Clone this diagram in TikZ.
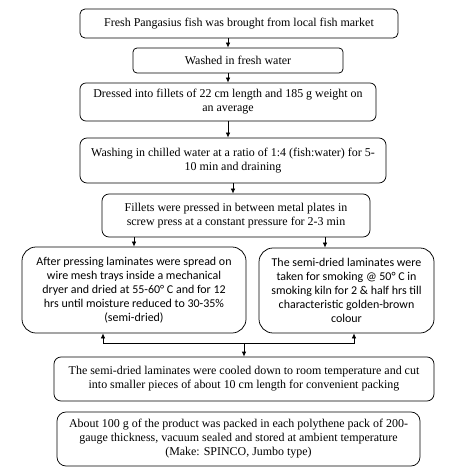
\documentclass[tikz,border=0pt]{standalone}
\usepackage{fontspec}
\setmainfont{Liberation Serif}
\newfontfamily\calibri{Carlito}
\usetikzlibrary{arrows.meta}
\usetikzlibrary{positioning}

\begin{document}
\begin{tikzpicture}[x=1bp, y=-1bp, line width=0.75bp,
  procbox/.style={draw, align=center, inner sep=2bp, font=\fontsize{12}{14}\selectfont},
  sidebox/.style={procbox, rounded corners=14bp, font=\calibri\fontsize{12}{14.2}\selectfont},
  >={Latex[length=5bp,width=4.5bp]}]
  \useasboundingbox (0,0) rectangle (465,471);

  \node[procbox, rounded corners=5bp, minimum width=318bp, minimum height=29bp] (fresh) at (239,23.5)
    {Fresh Pangasius fish was brought from local fish market};
  \node[procbox, rounded corners=4bp, minimum width=210bp, minimum height=25bp] (wash) at (238,60.5)
    {Washed in fresh water};
  \node[procbox, rounded corners=6bp, minimum width=296bp, minimum height=38bp] (dress) at (228,102)
    {Dressed into fillets of 22 cm length and 185 g weight on\\an average};
  \node[procbox, rounded corners=7bp, minimum width=306bp, minimum height=45bp] (chill) at (233,160.5)
    {Washing in chilled water at a ratio of 1:4 (fish:water) for 5-\\10 min and draining};
  \node[procbox, rounded corners=7bp, minimum width=268bp, minimum height=43bp] (press) at (236,215.5)
    {Fillets were pressed in between metal plates in\\screw press at a constant pressure for 2-3 min};

  \node[sidebox, minimum width=224bp, minimum height=86bp] (dry) at (134,290)
    {After pressing laminates were spread on\\wire mesh trays inside a mechanical\\dryer and dried at 55-60° C and for 12\\hrs until moisture reduced to 30-35\%\\(semi-dried)};
  \node[sidebox, minimum width=175bp, minimum height=85bp] (smoke) at (346.5,290.5)
    {The semi-dried laminates were\\taken for smoking @ 50° C in\\smoking kiln for 2 \& half hrs till\\characteristic golden-brown\\colour};

  \node[procbox, rounded corners=7bp, minimum width=380bp, minimum height=44bp] (cool) at (244,379)
    {The semi-dried laminates were cooled down to room temperature and cut\\into smaller pieces of about 10 cm length for convenient packing};
  \node[procbox, rounded corners=9bp, minimum width=363bp, minimum height=54bp] (pack) at (238.5,439)
    {About 100 g of the product was packed in each polythene pack of 200-\\gauge thickness, vacuum sealed and stored at ambient temperature\\(Make: SPINCO, Jumbo type)};

  \draw[->] (fresh.south -| dress.north) -- (wash.north -| dress.north);
  \draw[->] (wash.south -| dress.north) -- (dress.north);
  \draw[->] (dress.south) -- (dress.south |- chill.north);
  \draw[->] (chill.south) -- (chill.south |- press.north);
  \draw[->] (press.south -| dry.north) -- (dry.north);
  \draw[->] ([xshift=-21.5bp]smoke.north |- press.south) -- ([xshift=-21.5bp]smoke.north);

  \coordinate (join) at ([yshift=13bp]cool.north);
  \draw[<->] ([xshift=-31bp]dry.south) |- (join) -| ([xshift=7.5bp]smoke.south);
  \draw[->] (join) -- (cool.north);
\end{tikzpicture}
\end{document}
